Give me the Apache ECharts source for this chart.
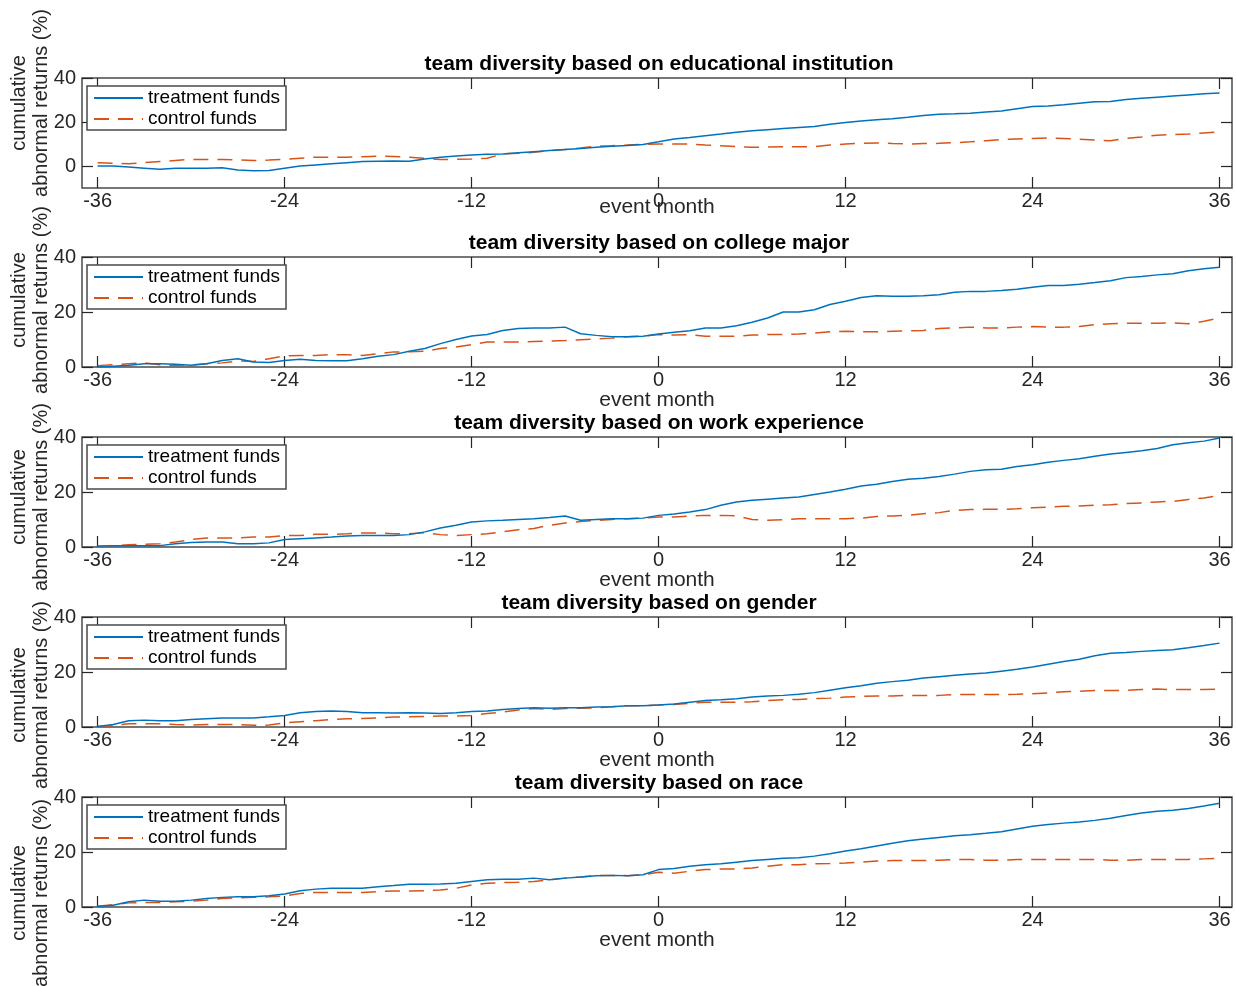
<!DOCTYPE html>
<html>
<head>
<meta charset="utf-8">
<script src="https://cdn.jsdelivr.net/npm/echarts@6/dist/echarts.min.js"></script>
<style>
html,body{margin:0;padding:0;background:#fff;}
#chart{width:1236px;height:986px;}
</style>
</head>
<body>
<div id="chart"></div>
<script>
const months = [-36,-35,-34,-33,-32,-31,-30,-29,-28,-27,-26,-25,-24,-23,-22,-21,-20,-19,-18,-17,-16,-15,-14,-13,-12,-11,-10,-9,-8,-7,-6,-5,-4,-3,-2,-1,0,1,2,3,4,5,6,7,8,9,10,11,12,13,14,15,16,17,18,19,20,21,22,23,24,25,26,27,28,29,30,31,32,33,34,35,36];
const xTickLabels = [-36,-24,-12,0,12,24,36];
const yTickLabels = [0,20,40];

const panelTitles = [
  "team diversity based on educational institution",
  "team diversity based on college major",
  "team diversity based on work experience",
  "team diversity based on gender",
  "team diversity based on race"
];
const seriesNames = ["treatment funds", "control funds"];
const xName = "event month";
const yName = "cumulative\nabnormal returns (%)";

const eduTreatment = [0,0,-0.5,-1,-1.5,-1,-1,-1,-0.8,-1.8,-2.2,-2,
  -1,0,0.5,1,1.5,2,2.2,2.3,2.2,3.2,4,4.5,
  5,5.3,5.5,6,6.5,7,7.5,8,8.5,9,9.3,9.8,
  11,12.3,13,13.8,14.5,15.3,16,16.5,17,17.5,18,19,
  19.8,20.5,21,21.5,22.2,23,23.5,23.7,24,24.5,25,26,
  27,27.3,27.8,28.5,29.2,29.3,30.2,30.8,31.3,31.8,32.3,32.8,
  33.2];
const eduControl = [1.5,1.2,1,1.5,2,2.5,3,3,3,2.8,2.5,2.7,
  3,3.5,4,4,4,4.2,4.5,4.3,4,3.5,3,3,
  3.2,3.5,5.5,5.8,6.2,7,7.5,8.2,9,9.2,9.5,9.8,
  10,10,10,9.5,9.2,8.8,8.5,8.6,8.8,8.8,8.8,9.5,
  10,10.3,10.5,10.2,10,10.2,10.3,10.6,11,11.5,12,12.3,
  12.5,12.7,12.5,12.2,11.8,11.5,12.5,13.2,14,14.3,14.5,15,
  15.5];
const majorTreatment = [0,0.3,0.6,1.2,1.2,1,0.6,1.2,2.4,3,1.8,1.6,
  2.4,2.8,2.4,2.3,2.3,3,3.9,4.5,5.7,6.7,8.5,10,
  11.3,11.8,13.3,14,14.2,14.2,14.5,12.1,11.5,11,11,11.2,
  12,12.6,13.2,14.2,14.2,15,16.3,17.8,20,20,20.8,22.7,
  23.9,25.3,25.9,25.7,25.7,25.9,26.3,27.2,27.5,27.5,27.8,28.3,
  29,29.6,29.6,30.1,30.7,31.4,32.5,32.9,33.5,33.9,35,35.7,
  36.3];
const majorControl = [0.5,0.8,1.2,1.5,0.8,0.6,0.8,1.2,1.5,2.2,2,3,
  4,4.2,4.2,4.5,4.5,4.2,4.8,5.5,5.5,5.7,6.7,7.3,
  8.1,9.1,9.1,9.1,9.3,9.4,9.6,9.9,10.2,10.5,11,11.2,
  11.8,11.6,11.8,11.2,11.2,11.2,11.6,11.8,11.8,12,12.3,12.8,
  13,12.8,12.8,13,13.1,13.3,14,14.2,14.5,14.2,14.2,14.5,
  14.7,14.5,14.5,14.7,15.4,15.7,15.9,15.9,15.9,16,15.7,16.6,
  17.8];
const workTreatment = [0.3,0.5,0.5,0.5,0.5,1.2,1.6,1.8,1.8,1.2,1.2,1.5,
  2.7,3,3.3,3.6,4,4.2,4.2,4.2,4.5,5.5,6.9,7.9,
  9.1,9.5,9.7,10,10.3,10.7,11.3,9.7,10,10.3,10.3,10.5,
  11.5,12,12.7,13.6,15.2,16.4,17,17.4,17.8,18.2,19.1,20,
  21,22.2,22.8,23.8,24.6,25,25.6,26.5,27.5,28.1,28.3,29.3,
  29.9,30.8,31.5,32.1,33,33.8,34.4,35,35.8,37.2,37.9,38.5,
  39.6];
const workControl = [0.3,0.5,0.8,1,1.2,1.8,2.7,3.3,3.3,3.3,3.6,3.6,
  4.2,4.2,4.6,4.6,4.8,5.1,5.1,4.8,4.8,5.2,4.5,4.2,
  4.5,4.8,5.5,6.3,6.7,7.9,8.7,9.3,9.7,10,10.3,10.5,
  10.9,10.9,11.3,11.5,11.5,11.3,10,9.7,9.9,10.3,10.3,10.3,
  10.3,10.5,11.1,11.3,11.5,12.1,12.5,13.3,13.6,13.7,13.7,13.9,
  14.3,14.5,14.8,14.9,15.2,15.4,15.8,16,16.4,16.6,17.3,17.8,
  18.8];
const genderTreatment = [0.2,0.9,2.3,2.5,2.3,2.3,2.7,3,3.3,3.3,3.3,3.7,
  4.2,5.2,5.6,5.8,5.6,5.2,5.2,5.1,5.2,5.1,4.9,5.2,
  5.6,5.8,6.4,6.7,7,6.8,7,7,7.3,7.4,7.7,7.7,
  8,8.4,9,9.6,9.9,10.3,10.9,11.3,11.5,11.9,12.5,13.4,
  14.3,15,15.9,16.5,17,17.8,18.3,18.8,19.3,19.6,20.3,21,
  21.8,22.8,23.8,24.6,25.9,26.8,27.1,27.5,27.8,28.1,28.8,29.6,
  30.5];
const genderControl = [0.2,0.5,1.2,1.2,1.2,0.9,0.7,0.9,0.9,0.9,0.6,0.7,
  1.5,1.9,2.3,2.7,3,3.1,3.3,3.6,3.7,3.8,4,4,
  4.2,4.9,5.4,6.2,6.7,6.4,6.7,6.8,7,7.4,7.7,7.7,
  8,8.2,8.6,9,9,9,9.2,9.6,9.9,10,10.3,10.5,
  10.9,11.1,11.3,11.3,11.5,11.5,11.5,11.8,11.8,11.8,11.8,11.9,
  12.1,12.4,12.8,13,13.3,13.3,13.3,13.6,13.8,13.6,13.6,13.6,
  13.8];
const raceTreatment = [0.2,0.6,1.9,2.5,2.1,2.1,2.5,3.1,3.5,3.7,3.7,4.1,
  4.7,5.9,6.5,6.8,6.8,6.8,7.4,7.8,8.3,8.3,8.4,8.6,
  9.3,9.9,10.1,10.1,10.5,9.9,10.5,10.9,11.4,11.5,11.4,11.7,
  13.6,14,14.8,15.4,15.7,16.3,16.9,17.3,17.7,17.9,18.5,19.4,
  20.4,21.2,22.2,23.2,24.1,24.7,25.3,25.9,26.3,26.8,27.4,28.4,
  29.4,30,30.5,30.9,31.5,32.3,33.3,34.2,34.8,35.2,35.8,36.7,
  37.7];
const raceControl = [0.3,0.8,1.5,1.6,1.6,1.9,2.1,2.5,3.1,3.3,3.5,3.7,
  4,4.9,5.3,5.3,5.3,5.3,5.6,5.8,5.8,5.9,6.2,6.8,
  8,8.6,8.9,9,9.3,9.9,10.5,10.9,11.4,11.5,11.4,11.7,
  12.6,12.3,13,13.6,13.8,13.8,14.2,14.8,15.4,15.4,15.7,15.8,
  16,16.3,16.7,16.9,16.9,16.9,17,17.3,17.3,17,17,17.3,
  17.3,17.3,17.3,17.3,17.3,17,17,17.3,17.3,17.3,17.3,17.5,
  17.7];

const treatmentSets = [eduTreatment, majorTreatment, workTreatment, genderTreatment, raceTreatment];
const controlSets = [eduControl, majorControl, workControl, genderControl, raceControl];
const yMins = [-10, 0, 0, 0, 0];

const gridTops = [78, 257, 437, 617, 797];
const gridH = 110;
const yNameCenters = [103, 300, 497, 695, 893];
const gLeft = 82, gRight = 4;
const axisColor = '#262626';
const fontFam = '"Liberation Sans", Arial, Helvetica, sans-serif';
const blue = '#0072BD', orange = '#D95319';

const grids = [], xAxes = [], yAxes = [], series = [], titles = [], legends = [], graphics = [];
for (let i = 0; i < 5; i++) {
  grids.push({left: gLeft, right: gRight, top: gridTops[i], height: gridH,
    show: true, borderColor: '#4a4a4a', borderWidth: 1.5, backgroundColor: '#fff', containLabel: false});
  const tickCommon = {show: true, inside: true, length: 11, customValues: xTickLabels,
    lineStyle: {color: axisColor, width: 1.2}};
  xAxes.push({type: 'value', gridIndex: i, min: -37, max: 36.8, position: 'bottom',
    axisLine: {show: false, onZero: false}, splitLine: {show: false},
    axisTick: tickCommon,
    axisLabel: {customValues: xTickLabels, margin: 3, fontSize: 20, color: axisColor, fontFamily: fontFam},
    name: xName, nameLocation: 'middle', nameGap: i === 0 ? 9 : 23,
    nameMoveOverlap: false,
    nameTextStyle: {fontSize: 21, color: axisColor, fontFamily: fontFam, verticalAlign: 'top'}});
  xAxes.push({type: 'value', gridIndex: i, min: -37, max: 36.8, position: 'top',
    axisLine: {show: false, onZero: false}, splitLine: {show: false},
    axisTick: tickCommon, axisLabel: {show: false}});
  const yTick = {show: true, inside: true, length: 11, customValues: yTickLabels,
    lineStyle: {color: axisColor, width: 1.2}};
  yAxes.push({type: 'value', gridIndex: i, min: yMins[i], max: 40, position: 'left',
    axisLine: {show: false, onZero: false}, splitLine: {show: false},
    axisTick: yTick,
    axisLabel: {customValues: yTickLabels, margin: 6, fontSize: 20, color: axisColor, fontFamily: fontFam}});
  yAxes.push({type: 'value', gridIndex: i, min: yMins[i], max: 40, position: 'right',
    axisLine: {show: false, onZero: false}, splitLine: {show: false},
    axisTick: yTick, axisLabel: {show: false}});
  titles.push({text: panelTitles[i], left: 659, top: gridTops[i] - 24, textAlign: 'center', padding: 0,
    textStyle: {fontSize: 21, fontWeight: 'bold', color: '#000', fontFamily: fontFam}});
  legends.push({show: true, left: 87, top: gridTops[i] + 8, orient: 'vertical',
    data: seriesNames, itemWidth: 49, itemHeight: 4, itemGap: 1,
    padding: [2, 6, 1, 6], borderColor: '#4a4a4a', borderWidth: 1.5, backgroundColor: '#fff',
    selectedMode: false,
    itemStyle: {opacity: 0},
    textStyle: {fontSize: 19, lineHeight: 20, color: '#000', fontFamily: fontFam}});
  graphics.push({type: 'text', x: 30, y: yNameCenters[i], rotation: Math.PI / 2, z: 0,
    style: {text: yName, fill: axisColor, fontSize: 20, lineHeight: 22, fontFamily: fontFam,
      textAlign: 'center', textVerticalAlign: 'middle', align: 'center', verticalAlign: 'middle'}});
  const t = treatmentSets[i], c = controlSets[i];
  series.push({name: seriesNames[0], type: 'line', xAxisIndex: 2*i, yAxisIndex: 2*i,
    data: months.map((m, k) => [m, t[k]]), symbol: 'none', showSymbol: false,
    lineStyle: {color: blue, width: 1.5}, itemStyle: {color: blue}, animation: false, z: 3});
  series.push({name: seriesNames[1], type: 'line', xAxisIndex: 2*i, yAxisIndex: 2*i,
    data: months.map((m, k) => [m, c[k]]), symbol: 'none', showSymbol: false,
    lineStyle: {color: orange, width: 1.5, type: [15, 9]}, itemStyle: {color: orange}, animation: false, z: 2});
}

const chart = echarts.init(document.getElementById('chart'), null, {renderer: 'canvas'});
chart.setOption({
  backgroundColor: '#fff',
  animation: false,
  title: titles,
  legend: legends,
  grid: grids,
  xAxis: xAxes,
  yAxis: yAxes,
  series: series,
  graphic: graphics
});
</script>
</body>
</html>
